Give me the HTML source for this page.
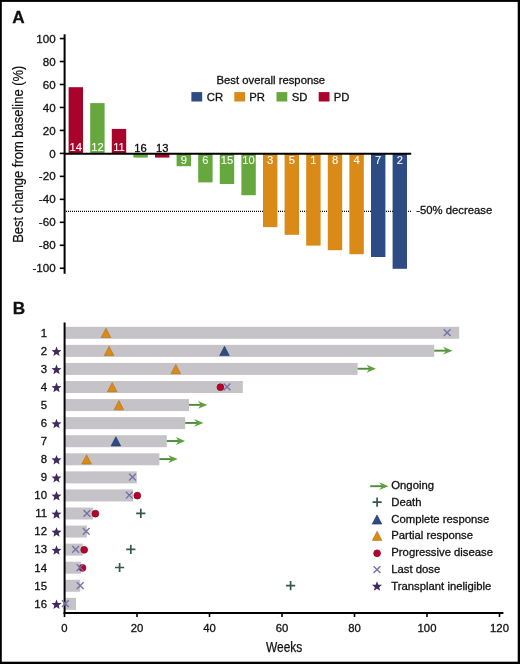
<!DOCTYPE html>
<html><head><meta charset="utf-8"><style>
html,body{margin:0;padding:0;background:#fff;}
svg{display:block;will-change:transform;}
text{font-family:"Liberation Sans",sans-serif;}
</style></head><body>
<svg width="520" height="664" viewBox="0 0 520 664">
<rect width="520" height="664" fill="#fff"/>
<g fill="#111">
<rect x="0" y="0" width="520" height="1.9" fill="#000"/>
<rect x="0" y="0" width="1.8" height="664" fill="#000"/>
<rect x="517.7" y="0" width="2.3" height="664" fill="#000"/>
<rect x="0" y="661.7" width="520" height="2.3" fill="#000"/>
<text x="12.2" y="23.1" font-size="17.2" font-weight="bold" stroke="#111" stroke-width="0.3">A</text>
<text x="12.8" y="313.8" font-size="17.2" font-weight="bold" stroke="#111" stroke-width="0.3">B</text>
<line x1="66" y1="211.3" x2="411" y2="211.3" stroke="#000" stroke-width="1.3" stroke-dasharray="1 1"/>
<rect x="68.60" y="87.2" width="14.4" height="66.60" fill="#a8042b"/>
<rect x="90.20" y="103.1" width="14.4" height="50.70" fill="#67a83e"/>
<rect x="111.80" y="128.9" width="14.4" height="24.90" fill="#a8042b"/>
<rect x="133.40" y="153.8" width="14.4" height="3.80" fill="#67a83e"/>
<rect x="155.00" y="153.8" width="14.4" height="3.80" fill="#a8042b"/>
<rect x="176.60" y="153.8" width="14.4" height="12.40" fill="#67a83e"/>
<rect x="198.20" y="153.8" width="14.4" height="28.60" fill="#67a83e"/>
<rect x="219.80" y="153.8" width="14.4" height="30.20" fill="#67a83e"/>
<rect x="241.40" y="153.8" width="14.4" height="41.40" fill="#67a83e"/>
<rect x="263.00" y="153.8" width="14.4" height="73.30" fill="#d98a17"/>
<rect x="284.60" y="153.8" width="14.4" height="81.00" fill="#d98a17"/>
<rect x="306.20" y="153.8" width="14.4" height="91.80" fill="#d98a17"/>
<rect x="327.80" y="153.8" width="14.4" height="96.40" fill="#d98a17"/>
<rect x="349.40" y="153.8" width="14.4" height="100.40" fill="#d98a17"/>
<rect x="371.00" y="153.8" width="14.4" height="103.20" fill="#2d4b85"/>
<rect x="392.60" y="153.8" width="14.4" height="115.00" fill="#2d4b85"/>
<line x1="64" y1="153.8" x2="411.2" y2="153.8" stroke="#000" stroke-width="2"/>
<line x1="64.6" y1="34.3" x2="64.6" y2="273.8" stroke="#000" stroke-width="2"/>
<line x1="59.8" y1="268.25" x2="64.6" y2="268.25" stroke="#000" stroke-width="1.6"/>
<text x="55.6" y="272.35" font-size="11.6" text-anchor="end" stroke="#111" stroke-width="0.3">-100</text>
<line x1="59.8" y1="245.28" x2="64.6" y2="245.28" stroke="#000" stroke-width="1.6"/>
<text x="55.6" y="249.38" font-size="11.6" text-anchor="end" stroke="#111" stroke-width="0.3">-80</text>
<line x1="59.8" y1="222.31" x2="64.6" y2="222.31" stroke="#000" stroke-width="1.6"/>
<text x="55.6" y="226.41" font-size="11.6" text-anchor="end" stroke="#111" stroke-width="0.3">-60</text>
<line x1="59.8" y1="199.34" x2="64.6" y2="199.34" stroke="#000" stroke-width="1.6"/>
<text x="55.6" y="203.44" font-size="11.6" text-anchor="end" stroke="#111" stroke-width="0.3">-40</text>
<line x1="59.8" y1="176.37" x2="64.6" y2="176.37" stroke="#000" stroke-width="1.6"/>
<text x="55.6" y="180.47" font-size="11.6" text-anchor="end" stroke="#111" stroke-width="0.3">-20</text>
<line x1="59.8" y1="153.40" x2="64.6" y2="153.40" stroke="#000" stroke-width="1.6"/>
<text x="55.6" y="157.50" font-size="11.6" text-anchor="end" stroke="#111" stroke-width="0.3">0</text>
<line x1="59.8" y1="130.43" x2="64.6" y2="130.43" stroke="#000" stroke-width="1.6"/>
<text x="55.6" y="134.53" font-size="11.6" text-anchor="end" stroke="#111" stroke-width="0.3">20</text>
<line x1="59.8" y1="107.46" x2="64.6" y2="107.46" stroke="#000" stroke-width="1.6"/>
<text x="55.6" y="111.56" font-size="11.6" text-anchor="end" stroke="#111" stroke-width="0.3">40</text>
<line x1="59.8" y1="84.49" x2="64.6" y2="84.49" stroke="#000" stroke-width="1.6"/>
<text x="55.6" y="88.59" font-size="11.6" text-anchor="end" stroke="#111" stroke-width="0.3">60</text>
<line x1="59.8" y1="61.52" x2="64.6" y2="61.52" stroke="#000" stroke-width="1.6"/>
<text x="55.6" y="65.62" font-size="11.6" text-anchor="end" stroke="#111" stroke-width="0.3">80</text>
<line x1="59.8" y1="38.55" x2="64.6" y2="38.55" stroke="#000" stroke-width="1.6"/>
<text x="55.6" y="42.65" font-size="11.6" text-anchor="end" stroke="#111" stroke-width="0.3">100</text>
<text x="75.80" y="151.4" font-size="11.2" fill="#fff" text-anchor="middle" stroke="#fff" stroke-width="0.1">14</text>
<text x="97.40" y="151.4" font-size="11.2" fill="#fff" text-anchor="middle" stroke="#fff" stroke-width="0.1">12</text>
<text x="119.00" y="151.4" font-size="11.2" fill="#fff" text-anchor="middle" stroke="#fff" stroke-width="0.1">11</text>
<text x="140.60" y="151.7" font-size="11.2" fill="#000" text-anchor="middle" stroke="#111" stroke-width="0.3">16</text>
<text x="162.20" y="151.7" font-size="11.2" fill="#000" text-anchor="middle" stroke="#111" stroke-width="0.3">13</text>
<text x="183.80" y="164.0" font-size="11.2" fill="#fff" text-anchor="middle" stroke="#fff" stroke-width="0.1">9</text>
<text x="205.40" y="164.0" font-size="11.2" fill="#fff" text-anchor="middle" stroke="#fff" stroke-width="0.1">6</text>
<text x="227.00" y="164.0" font-size="11.2" fill="#fff" text-anchor="middle" stroke="#fff" stroke-width="0.1">15</text>
<text x="248.60" y="164.0" font-size="11.2" fill="#fff" text-anchor="middle" stroke="#fff" stroke-width="0.1">10</text>
<text x="270.20" y="164.0" font-size="11.2" fill="#fff" text-anchor="middle" stroke="#fff" stroke-width="0.1">3</text>
<text x="291.80" y="164.0" font-size="11.2" fill="#fff" text-anchor="middle" stroke="#fff" stroke-width="0.1">5</text>
<text x="313.40" y="164.0" font-size="11.2" fill="#fff" text-anchor="middle" stroke="#fff" stroke-width="0.1">1</text>
<text x="335.00" y="164.0" font-size="11.2" fill="#fff" text-anchor="middle" stroke="#fff" stroke-width="0.1">8</text>
<text x="356.60" y="164.0" font-size="11.2" fill="#fff" text-anchor="middle" stroke="#fff" stroke-width="0.1">4</text>
<text x="378.20" y="164.0" font-size="11.2" fill="#fff" text-anchor="middle" stroke="#fff" stroke-width="0.1">7</text>
<text x="399.80" y="164.0" font-size="11.2" fill="#fff" text-anchor="middle" stroke="#fff" stroke-width="0.1">2</text>
<text transform="translate(23.1,154.2) rotate(-90)" font-size="14.7" text-anchor="middle" textLength="177.2" lengthAdjust="spacingAndGlyphs" stroke="#111" stroke-width="0.2">Best change from baseline (%)</text>
<text x="216.5" y="84.4" font-size="11.3" stroke="#111" stroke-width="0.3">Best overall response</text>
<rect x="191.40" y="92.1" width="10.8" height="9.4" fill="#2d4b85"/>
<text x="206.8" y="100.9" font-size="11.3" stroke="#111" stroke-width="0.3">CR</text>
<rect x="234.30" y="92.1" width="10.8" height="9.4" fill="#d98a17"/>
<text x="249.2" y="100.9" font-size="11.3" stroke="#111" stroke-width="0.3">PR</text>
<rect x="276.50" y="92.1" width="10.8" height="9.4" fill="#67a83e"/>
<text x="291.8" y="100.9" font-size="11.3" stroke="#111" stroke-width="0.3">SD</text>
<rect x="318.70" y="92.1" width="10.8" height="9.4" fill="#a8042b"/>
<text x="333.7" y="100.9" font-size="11.3" stroke="#111" stroke-width="0.3">PD</text>
<text x="416.3" y="214.4" font-size="11.3" stroke="#111" stroke-width="0.3">-50% decrease</text>
<rect x="65.3" y="326.80" width="393.90" height="12.0" fill="#c5c3c8"/>
<rect x="65.3" y="344.87" width="368.90" height="12.0" fill="#c5c3c8"/>
<rect x="65.3" y="362.94" width="292.30" height="12.0" fill="#c5c3c8"/>
<rect x="65.3" y="381.01" width="177.50" height="12.0" fill="#c5c3c8"/>
<rect x="65.3" y="399.08" width="123.70" height="12.0" fill="#c5c3c8"/>
<rect x="65.3" y="417.15" width="119.90" height="12.0" fill="#c5c3c8"/>
<rect x="65.3" y="435.22" width="101.50" height="12.0" fill="#c5c3c8"/>
<rect x="65.3" y="453.29" width="94.10" height="12.0" fill="#c5c3c8"/>
<rect x="65.3" y="471.36" width="71.50" height="12.0" fill="#c5c3c8"/>
<rect x="65.3" y="489.43" width="67.70" height="12.0" fill="#c5c3c8"/>
<rect x="65.3" y="507.50" width="27.70" height="12.0" fill="#c5c3c8"/>
<rect x="65.3" y="525.57" width="21.60" height="12.0" fill="#c5c3c8"/>
<rect x="65.3" y="543.64" width="17.40" height="12.0" fill="#c5c3c8"/>
<rect x="65.3" y="561.71" width="15.70" height="12.0" fill="#c5c3c8"/>
<rect x="65.3" y="579.78" width="14.90" height="12.0" fill="#c5c3c8"/>
<rect x="65.3" y="597.85" width="10.70" height="12.0" fill="#c5c3c8"/>
<line x1="64.6" y1="322.5" x2="64.6" y2="614" stroke="#000" stroke-width="2"/>
<line x1="63.6" y1="612.9" x2="503.4" y2="612.9" stroke="#000" stroke-width="2"/>
<line x1="64.50" y1="613" x2="64.50" y2="617" stroke="#000" stroke-width="1.6"/>
<text x="64.50" y="632.3" font-size="11.3" text-anchor="middle" stroke="#111" stroke-width="0.3">0</text>
<line x1="137.00" y1="613" x2="137.00" y2="617" stroke="#000" stroke-width="1.6"/>
<text x="137.00" y="632.3" font-size="11.3" text-anchor="middle" stroke="#111" stroke-width="0.3">20</text>
<line x1="209.50" y1="613" x2="209.50" y2="617" stroke="#000" stroke-width="1.6"/>
<text x="209.50" y="632.3" font-size="11.3" text-anchor="middle" stroke="#111" stroke-width="0.3">40</text>
<line x1="282.00" y1="613" x2="282.00" y2="617" stroke="#000" stroke-width="1.6"/>
<text x="282.00" y="632.3" font-size="11.3" text-anchor="middle" stroke="#111" stroke-width="0.3">60</text>
<line x1="354.50" y1="613" x2="354.50" y2="617" stroke="#000" stroke-width="1.6"/>
<text x="354.50" y="632.3" font-size="11.3" text-anchor="middle" stroke="#111" stroke-width="0.3">80</text>
<line x1="427.00" y1="613" x2="427.00" y2="617" stroke="#000" stroke-width="1.6"/>
<text x="427.00" y="632.3" font-size="11.3" text-anchor="middle" stroke="#111" stroke-width="0.3">100</text>
<line x1="499.50" y1="613" x2="499.50" y2="617" stroke="#000" stroke-width="1.6"/>
<text x="499.50" y="632.3" font-size="11.3" text-anchor="middle" stroke="#111" stroke-width="0.3">120</text>
<text x="266" y="651.9" font-size="14.7" textLength="36.3" lengthAdjust="spacingAndGlyphs" stroke="#111" stroke-width="0.25">Weeks</text>
<text x="47" y="336.60" font-size="11.4" text-anchor="end" stroke="#111" stroke-width="0.3">1</text>
<polygon points="106.00,328.30 110.80,337.50 101.20,337.50" fill="#d98a17" stroke="#b07018" stroke-width="0.6" stroke-linejoin="round"/>
<path d="M443.80,329.20L450.60,336.00M450.60,329.20L443.80,336.00" stroke="#7471a8" stroke-width="1.35" fill="none"/>
<text x="47" y="354.67" font-size="11.4" text-anchor="end" stroke="#111" stroke-width="0.3">2</text>
<polygon points="56.50,346.47 57.85,349.91 61.54,350.13 58.69,352.48 59.62,356.06 56.50,354.07 53.38,356.06 54.31,352.48 51.46,350.13 55.15,349.91" fill="#3f2a5e"/>
<polygon points="109.10,346.37 113.90,355.57 104.30,355.57" fill="#d98a17" stroke="#b07018" stroke-width="0.6" stroke-linejoin="round"/>
<polygon points="224.50,346.37 229.30,355.57 219.70,355.57" fill="#2d4b85" stroke="#1e3360" stroke-width="0.6" stroke-linejoin="round"/>
<line x1="434.20" y1="350.67" x2="448.50" y2="350.67" stroke="#4f8a3b" stroke-width="1.9"/><path d="M452.50,350.67L443.10,346.77L446.10,350.67L443.10,354.57Z" fill="#5ba23a"/>
<text x="47" y="372.74" font-size="11.4" text-anchor="end" stroke="#111" stroke-width="0.3">3</text>
<polygon points="56.50,364.54 57.85,367.98 61.54,368.20 58.69,370.55 59.62,374.13 56.50,372.14 53.38,374.13 54.31,370.55 51.46,368.20 55.15,367.98" fill="#3f2a5e"/>
<polygon points="175.80,364.44 180.60,373.64 171.00,373.64" fill="#d98a17" stroke="#b07018" stroke-width="0.6" stroke-linejoin="round"/>
<line x1="357.60" y1="368.74" x2="371.90" y2="368.74" stroke="#4f8a3b" stroke-width="1.9"/><path d="M375.90,368.74L366.50,364.84L369.50,368.74L366.50,372.64Z" fill="#5ba23a"/>
<text x="47" y="390.81" font-size="11.4" text-anchor="end" stroke="#111" stroke-width="0.3">4</text>
<polygon points="56.50,382.61 57.85,386.05 61.54,386.27 58.69,388.62 59.62,392.20 56.50,390.21 53.38,392.20 54.31,388.62 51.46,386.27 55.15,386.05" fill="#3f2a5e"/>
<polygon points="112.20,382.51 117.00,391.71 107.40,391.71" fill="#d98a17" stroke="#b07018" stroke-width="0.6" stroke-linejoin="round"/>
<circle cx="220.40" cy="387.21" r="3.4" fill="#b8022d" stroke="#8c0722" stroke-width="0.8"/>
<path d="M223.60,383.41L230.40,390.21M230.40,383.41L223.60,390.21" stroke="#7471a8" stroke-width="1.35" fill="none"/>
<text x="47" y="408.88" font-size="11.4" text-anchor="end" stroke="#111" stroke-width="0.3">5</text>
<polygon points="118.90,400.58 123.70,409.78 114.10,409.78" fill="#d98a17" stroke="#b07018" stroke-width="0.6" stroke-linejoin="round"/>
<line x1="189.00" y1="404.88" x2="203.30" y2="404.88" stroke="#4f8a3b" stroke-width="1.9"/><path d="M207.30,404.88L197.90,400.98L200.90,404.88L197.90,408.78Z" fill="#5ba23a"/>
<text x="47" y="426.95" font-size="11.4" text-anchor="end" stroke="#111" stroke-width="0.3">6</text>
<polygon points="56.50,418.75 57.85,422.19 61.54,422.41 58.69,424.76 59.62,428.34 56.50,426.35 53.38,428.34 54.31,424.76 51.46,422.41 55.15,422.19" fill="#3f2a5e"/>
<line x1="185.20" y1="422.95" x2="199.50" y2="422.95" stroke="#4f8a3b" stroke-width="1.9"/><path d="M203.50,422.95L194.10,419.05L197.10,422.95L194.10,426.85Z" fill="#5ba23a"/>
<text x="47" y="445.02" font-size="11.4" text-anchor="end" stroke="#111" stroke-width="0.3">7</text>
<polygon points="115.90,436.72 120.70,445.92 111.10,445.92" fill="#2d4b85" stroke="#1e3360" stroke-width="0.6" stroke-linejoin="round"/>
<line x1="166.80" y1="441.02" x2="181.10" y2="441.02" stroke="#4f8a3b" stroke-width="1.9"/><path d="M185.10,441.02L175.70,437.12L178.70,441.02L175.70,444.92Z" fill="#5ba23a"/>
<text x="47" y="463.09" font-size="11.4" text-anchor="end" stroke="#111" stroke-width="0.3">8</text>
<polygon points="56.50,454.89 57.85,458.33 61.54,458.55 58.69,460.90 59.62,464.48 56.50,462.49 53.38,464.48 54.31,460.90 51.46,458.55 55.15,458.33" fill="#3f2a5e"/>
<polygon points="86.60,454.79 91.40,463.99 81.80,463.99" fill="#d98a17" stroke="#b07018" stroke-width="0.6" stroke-linejoin="round"/>
<line x1="159.40" y1="459.09" x2="173.70" y2="459.09" stroke="#4f8a3b" stroke-width="1.9"/><path d="M177.70,459.09L168.30,455.19L171.30,459.09L168.30,462.99Z" fill="#5ba23a"/>
<text x="47" y="481.16" font-size="11.4" text-anchor="end" stroke="#111" stroke-width="0.3">9</text>
<polygon points="56.50,472.96 57.85,476.40 61.54,476.62 58.69,478.97 59.62,482.55 56.50,480.56 53.38,482.55 54.31,478.97 51.46,476.62 55.15,476.40" fill="#3f2a5e"/>
<path d="M129.10,473.76L135.90,480.56M135.90,473.76L129.10,480.56" stroke="#7471a8" stroke-width="1.35" fill="none"/>
<text x="47" y="499.23" font-size="11.4" text-anchor="end" stroke="#111" stroke-width="0.3">10</text>
<polygon points="56.50,491.03 57.85,494.47 61.54,494.69 58.69,497.04 59.62,500.62 56.50,498.63 53.38,500.62 54.31,497.04 51.46,494.69 55.15,494.47" fill="#3f2a5e"/>
<circle cx="137.30" cy="495.63" r="3.4" fill="#b8022d" stroke="#8c0722" stroke-width="0.8"/>
<path d="M125.90,491.83L132.70,498.63M132.70,491.83L125.90,498.63" stroke="#7471a8" stroke-width="1.35" fill="none"/>
<text x="47" y="517.30" font-size="11.4" text-anchor="end" stroke="#111" stroke-width="0.3">11</text>
<polygon points="56.50,509.10 57.85,512.54 61.54,512.76 58.69,515.11 59.62,518.69 56.50,516.70 53.38,518.69 54.31,515.11 51.46,512.76 55.15,512.54" fill="#3f2a5e"/>
<circle cx="95.40" cy="513.70" r="3.4" fill="#b8022d" stroke="#8c0722" stroke-width="0.8"/>
<path d="M83.50,509.90L90.30,516.70M90.30,509.90L83.50,516.70" stroke="#7471a8" stroke-width="1.35" fill="none"/>
<path d="M136.20,513.30H145.40M140.80,508.70V517.90" stroke="#35584d" stroke-width="1.7" fill="none"/>
<text x="47" y="535.37" font-size="11.4" text-anchor="end" stroke="#111" stroke-width="0.3">12</text>
<polygon points="56.50,527.17 57.85,530.61 61.54,530.83 58.69,533.18 59.62,536.76 56.50,534.77 53.38,536.76 54.31,533.18 51.46,530.83 55.15,530.61" fill="#3f2a5e"/>
<path d="M82.80,527.97L89.60,534.77M89.60,527.97L82.80,534.77" stroke="#7471a8" stroke-width="1.35" fill="none"/>
<text x="47" y="553.44" font-size="11.4" text-anchor="end" stroke="#111" stroke-width="0.3">13</text>
<polygon points="56.50,545.24 57.85,548.68 61.54,548.90 58.69,551.25 59.62,554.83 56.50,552.84 53.38,554.83 54.31,551.25 51.46,548.90 55.15,548.68" fill="#3f2a5e"/>
<circle cx="84.20" cy="549.84" r="3.4" fill="#b8022d" stroke="#8c0722" stroke-width="0.8"/>
<path d="M72.20,546.04L79.00,552.84M79.00,546.04L72.20,552.84" stroke="#7471a8" stroke-width="1.35" fill="none"/>
<path d="M126.20,549.44H135.40M130.80,544.84V554.04" stroke="#35584d" stroke-width="1.7" fill="none"/>
<text x="47" y="571.51" font-size="11.4" text-anchor="end" stroke="#111" stroke-width="0.3">14</text>
<circle cx="82.50" cy="567.91" r="3.4" fill="#b8022d" stroke="#8c0722" stroke-width="0.8"/>
<path d="M76.60,564.11L83.40,570.91M83.40,564.11L76.60,570.91" stroke="#7471a8" stroke-width="1.35" fill="none"/>
<path d="M115.00,567.51H124.20M119.60,562.91V572.11" stroke="#35584d" stroke-width="1.7" fill="none"/>
<text x="47" y="589.58" font-size="11.4" text-anchor="end" stroke="#111" stroke-width="0.3">15</text>
<path d="M76.80,582.18L83.60,588.98M83.60,582.18L76.80,588.98" stroke="#7471a8" stroke-width="1.35" fill="none"/>
<path d="M286.00,585.58H295.20M290.60,580.98V590.18" stroke="#35584d" stroke-width="1.7" fill="none"/>
<text x="47" y="607.65" font-size="11.4" text-anchor="end" stroke="#111" stroke-width="0.3">16</text>
<polygon points="56.50,599.45 57.85,602.89 61.54,603.11 58.69,605.46 59.62,609.04 56.50,607.05 53.38,609.04 54.31,605.46 51.46,603.11 55.15,602.89" fill="#3f2a5e"/>
<path d="M62.00,600.25L68.80,607.05M68.80,600.25L62.00,607.05" stroke="#7471a8" stroke-width="1.35" fill="none"/>
<line x1="370.20" y1="486.20" x2="384.50" y2="486.20" stroke="#4f8a3b" stroke-width="1.9"/><path d="M388.50,486.20L379.10,482.30L382.10,486.20L379.10,490.10Z" fill="#5ba23a"/>
<path d="M372.50,502.10H381.70M377.10,497.50V506.70" stroke="#35584d" stroke-width="1.7" fill="none"/>
<polygon points="377.00,514.90 381.80,524.10 372.20,524.10" fill="#2d4b85" stroke="#1e3360" stroke-width="0.6" stroke-linejoin="round"/>
<polygon points="377.10,531.20 381.90,540.40 372.30,540.40" fill="#d98a17" stroke="#b07018" stroke-width="0.6" stroke-linejoin="round"/>
<circle cx="377.10" cy="553.30" r="3.4" fill="#b8022d" stroke="#8c0722" stroke-width="0.8"/>
<path d="M373.60,566.20L380.40,573.00M380.40,566.20L373.60,573.00" stroke="#7471a8" stroke-width="1.35" fill="none"/>
<polygon points="377.00,581.20 378.35,584.64 382.04,584.86 379.19,587.21 380.12,590.79 377.00,588.80 373.88,590.79 374.81,587.21 371.96,584.86 375.65,584.64" fill="#3f2a5e"/>
<text x="391.3" y="489.20" font-size="11.3" stroke="#111" stroke-width="0.3">Ongoing</text>
<text x="391.3" y="505.95" font-size="11.3" stroke="#111" stroke-width="0.3">Death</text>
<text x="391.3" y="522.70" font-size="11.3" stroke="#111" stroke-width="0.3">Complete response</text>
<text x="391.3" y="539.45" font-size="11.3" stroke="#111" stroke-width="0.3">Partial response</text>
<text x="391.3" y="556.20" font-size="11.3" stroke="#111" stroke-width="0.3">Progressive disease</text>
<text x="391.3" y="572.95" font-size="11.3" stroke="#111" stroke-width="0.3">Last dose</text>
<text x="391.3" y="589.70" font-size="11.3" stroke="#111" stroke-width="0.3">Transplant ineligible</text>
</g>
</svg>
</body></html>
